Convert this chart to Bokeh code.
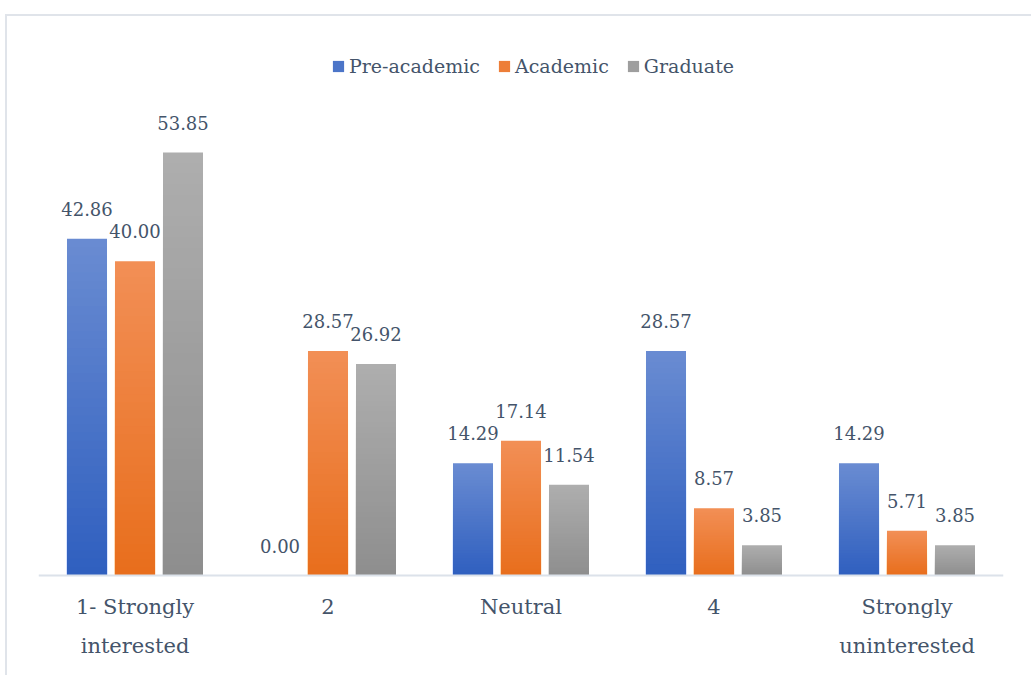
import numpy as np
from bokeh.plotting import figure
from bokeh.models import ColumnDataSource, FactorRange, Range1d, Legend, LegendItem, Span
from bokeh.transform import dodge
from bokeh.core.properties import value
from bokeh.embed import file_html
from bokeh.resources import INLINE

# --- data -------------------------------------------------------------
categories = ["1- Strongly interested", "2", "Neutral", "4", "Strongly uninterested"]
category_labels = ["1- Strongly\ninterested", "2", "Neutral", "4", "Strongly\nuninterested"]
series_names = ["Pre-academic", "Academic", "Graduate"]
pre_academic = [42.86, 0.00, 14.29, 28.57, 14.29]
academic = [40.00, 28.57, 17.14, 8.57, 5.71]
graduate = [53.85, 26.92, 11.54, 3.85, 3.85]

# --- style ------------------------------------------------------------
TEXT = "#44546a"
FONT = "DejaVu Serif"
# (light top, dark bottom) of each series' vertical gradient
gradients = [("#6a8cd2", "#2f5fbf"), ("#f28f56", "#e86e1c"), ("#aeaeae", "#8e8e8e")]
offsets = [-0.2487, 0.0, 0.2487]
BAR_W = 0.2073
STEPS = 40

PX_PER_UNIT = 7.855
CANVAS_W, CANVAS_H = 1026, 661
LEFT, RIGHT = 31, 30
BASE_FROM_TOP = 559          # baseline position inside the canvas
y_end = BASE_FROM_TOP / PX_PER_UNIT
y_start = -(CANVAS_H - BASE_FROM_TOP) / PX_PER_UNIT


def hex_rgb(h):
    h = h.lstrip("#")
    return np.array([int(h[i:i + 2], 16) for i in (0, 2, 4)], dtype=float)


def mix(c_bottom, c_top, t):
    c = hex_rgb(c_bottom) * (1 - t) + hex_rgb(c_top) * t
    return "#%02x%02x%02x" % tuple(int(round(v)) for v in c)


p = figure(
    x_range=FactorRange(*categories, range_padding=0),
    y_range=Range1d(y_start, y_end),
    width=CANVAS_W, height=CANVAS_H,
    output_backend="svg", toolbar_location=None,
    x_axis_type=None, y_axis_type=None,
    min_border_left=LEFT, min_border_right=RIGHT,
    min_border_top=0, min_border_bottom=0,
)
p.margin = (14, 0, 0, 5)
p.styles = {"border-left": "2px solid #e0e4ea", "border-top": "2px solid #e0e4ea"}
p.outline_line_color = None
p.grid.visible = False
p.background_fill_color = "white"
p.border_fill_color = "white"

# baseline
p.add_layout(Span(location=0, dimension="width", line_color="#dce2ea", line_width=2))

legend_items = []
for name, vals, (c_top, c_bot), off in zip(series_names, [pre_academic, academic, graduate],
                                           gradients, offsets):
    xs, tops, cols = [], [], []
    # tallest slice first, each shorter slice painted over it -> smooth gradient
    for k in range(STEPS, 0, -1):
        t = k / STEPS
        col = mix(c_bot, c_top, (k - 0.5) / STEPS)
        for cat, v in zip(categories, vals):
            xs.append(cat)
            tops.append(v * t)
            cols.append(col)
    src = ColumnDataSource(dict(x=xs, top=tops, color=cols))
    r = p.vbar(x=dodge("x", off, range=p.x_range), top="top", bottom=0, width=BAR_W,
               fill_color="color", line_color=None, source=src)
    legend_items.append(LegendItem(label=name, renderers=[r], index=(STEPS // 2) * len(categories)))

    lab_src = ColumnDataSource(dict(x=categories, y=vals, txt=["%.2f" % v for v in vals]))
    p.text(x=dodge("x", off, range=p.x_range), y="y", text="txt", source=lab_src,
           text_align="center", text_baseline="middle", y_offset=-30,
           text_font=value(FONT), text_font_size="18px", text_color=TEXT)

# category labels under the baseline, one row per text line
lines = [lab.split("\n") for lab in category_labels]
for row, dy in ((0, 31), (1, 70)):
    xs = [c for c, ln in zip(categories, lines) if len(ln) > row]
    txt = [ln[row] for ln in lines if len(ln) > row]
    src = ColumnDataSource(dict(x=xs, txt=txt, y=[0] * len(xs)))
    p.text(x="x", y="y", text="txt", source=src, text_align="center", text_baseline="middle",
           y_offset=dy, text_font=value(FONT), text_font_size="21px", text_color=TEXT)

# legend placed in screen pixels from the frame's bottom-left corner
legend = Legend(items=legend_items, location=(293, 600), orientation="horizontal",
                glyph_width=14, glyph_height=14, label_standoff=4, spacing=17,
                padding=0, margin=0, border_line_color=None, background_fill_alpha=0,
                label_text_font=FONT, label_text_font_size="19px", label_text_color=TEXT)
p.add_layout(legend)

open("out.html", "w").write(file_html(p, INLINE))
